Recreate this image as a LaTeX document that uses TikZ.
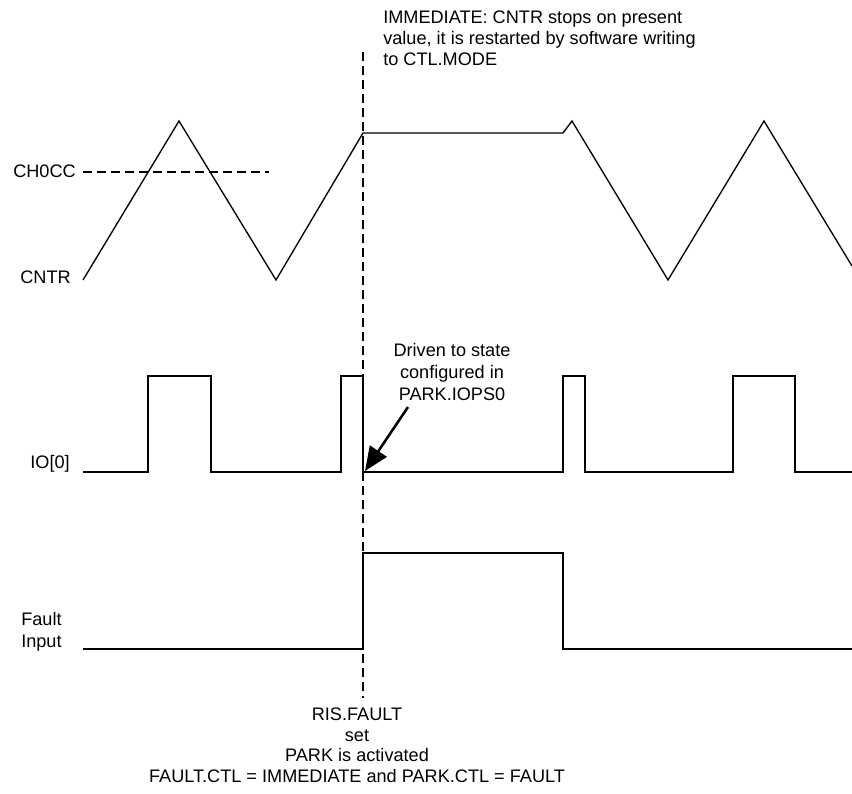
\documentclass[tikz,border=0pt]{standalone}
\usepackage{fontspec}
\setmainfont{Liberation Sans}
\usetikzlibrary{arrows.meta}
\begin{document}
\begin{tikzpicture}[x=0.75pt,y=-0.75pt,
  wave/.style={line width=1pt,line join=miter},
  guide/.style={line width=0.9pt,dash pattern=on 6.5pt off 4pt},
  lbl/.style={inner sep=0pt,font=\fontsize{13.6pt}{15.75pt}\selectfont},
  note/.style={lbl,align=center},
  pointer/.style={line width=1.9pt,-{Triangle[length=18pt,width=15pt]}}]
\useasboundingbox (0,0) rectangle (852,793);
% labels
\node[lbl,anchor=east] (ch0cc) at (76,171) {CH0CC};
\node[lbl,anchor=east] (cntr) at (71,277) {CNTR};
\node[lbl,anchor=base east] (io0) at (70,468) {IO[0]};
\node[lbl,anchor=north west,align=left,font=\fontsize{13.6pt}{16.5pt}\selectfont] (fault) at (21,612) {Fault\\Input};
% counter waveform
\draw[wave] (83,280) -- (179,121) -- (276,280) -- (363,133) -- (563,133) -- (572,121) -- (668,280) -- (764,121) -- (852,266);
% CH0CC compare level
\coordinate (cc0) at (83,172);
\coordinate (cc1) at (269,172);
\draw[guide] (cc0) -- (cc1);
% IO[0]
\draw[wave] (83,472) -- (148,472) -- (148,376) -- (211,376) -- (211,472) -- (341,472) -- (341,376) -- (363,376) -- (363,472) -- (563,472) -- (563,376) -- (585,376) -- (585,472) -- (733,472) -- (733,376) -- (795,376) -- (795,472) -- (852,472);
% Fault input
\draw[wave] (83,649) -- (363,649) -- (363,553) -- (563,553) -- (563,649) -- (852,649);
% event line
\coordinate (ev0) at (363,52);
\coordinate (ev1) at (363,698);
\draw[guide] (ev0) -- (ev1);
% notes
\node[lbl,anchor=north west,align=left] (top) at (383,11) {IMMEDIATE: CNTR stops on present\\value, it is restarted by software writing\\to CTL.MODE};
\node[note,anchor=north,font=\fontsize{13.6pt}{16.5pt}\selectfont] (drv) at (452,343) {Driven to state\\configured in\\PARK.IOPS0};
\node[note,anchor=north,font=\fontsize{13.6pt}{15.3pt}\selectfont] (bot) at (357,708) {RIS.FAULT\\set\\PARK is activated\\FAULT.CTL = IMMEDIATE and PARK.CTL = FAULT};
% arrow
\coordinate (arS) at (408,407);
\coordinate (arE) at (365,471);
\draw[pointer] (arS) -- (arE);
\end{tikzpicture}
\end{document}
